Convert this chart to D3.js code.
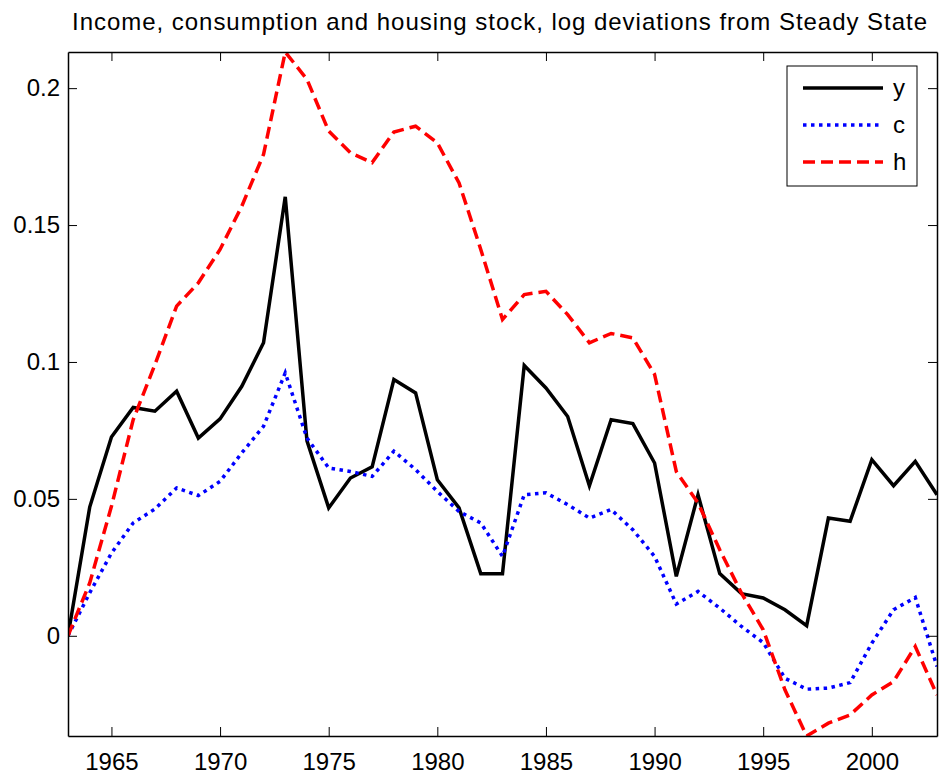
<!DOCTYPE html>
<html>
<head>
<meta charset="utf-8">
<script src="https://cdn.jsdelivr.net/npm/d3@7"></script>
<style>
  body { margin: 0; background: #fff; }
  svg { display: block; font-family: "Liberation Sans", Arial, Helvetica, sans-serif; }
</style>
</head>
<body>
<svg id="chart" width="939" height="777"></svg>
<script>
// log deviations from steady state, 1963-2003
const years = d3.range(1963, 2004);
const income = [0, 0.047, 0.0726, 0.0834, 0.082, 0.0893, 0.0722, 0.0792, 0.0911, 0.107,
  0.1603, 0.0712, 0.0467, 0.0576, 0.0617, 0.0936, 0.0887, 0.057, 0.0467, 0.0227,
  0.0227, 0.0987, 0.0905, 0.0801, 0.0548, 0.0789, 0.0775, 0.0631, 0.0217, 0.0515,
  0.0227, 0.0154, 0.0138, 0.0095, 0.0037, 0.043, 0.0418, 0.0643, 0.0548, 0.0637, 0.0515];
const consumption = [0, 0.0157, 0.0302, 0.0412, 0.0463, 0.054, 0.0512, 0.0564, 0.0668, 0.0765,
  0.096, 0.0722, 0.0613, 0.06, 0.0582, 0.0674, 0.0607, 0.0527, 0.0454, 0.0412,
  0.029, 0.0515, 0.0522, 0.0479, 0.043, 0.0461, 0.0387, 0.029, 0.0116, 0.0162,
  0.0101, 0.0034, -0.0025, -0.0155, -0.0195, -0.0191, -0.0171, -0.0027, 0.0095, 0.014, -0.0112];
const housing = [0, 0.0193, 0.0473, 0.0789, 0.099, 0.1204, 0.1289, 0.1411, 0.1569, 0.1758,
  0.2132, 0.2032, 0.1843, 0.1764, 0.1728, 0.184, 0.1861, 0.18, 0.1654, 0.1411,
  0.1155, 0.1246, 0.1258, 0.1173, 0.107, 0.1104, 0.1088, 0.0955, 0.06, 0.0485,
  0.0314, 0.0156, 0.0022, -0.0197, -0.0366, -0.0319, -0.0289, -0.0216, -0.0167, -0.0039, -0.0216];
const xTicks = [1965, 1970, 1975, 1980, 1985, 1990, 1995, 2000];
const yTicks = [0, 0.05, 0.1, 0.15, 0.2];

const series = [
  { name: "y", values: income, color: "#000", dash: null, width: 3.5 },
  { name: "c", values: consumption, color: "#0000ff", dash: "3.5,4.5", width: 3.5 },
  { name: "h", values: housing, color: "#ff0000", dash: "12,6", width: 3.5 }
];

const svg = d3.select("#chart");
const margin = { top: 52, right: 2, bottom: 41, left: 68 };
const width = +svg.attr("width");
const height = +svg.attr("height");

const x = d3.scaleLinear()
  .domain(d3.extent(years))
  .range([margin.left, width - margin.right]);

const allValues = income.concat(consumption, housing);
const y = d3.scaleLinear()
  .domain(d3.extent(allValues))
  .range([height - margin.bottom, margin.top]);

svg.append("text")
  .attr("x", 72)
  .attr("y", 30)
  .attr("textLength", 855)
  .attr("lengthAdjust", "spacing")
  .style("font-size", "24px")
  .text("Income, consumption and housing stock, log deviations from Steady State");

svg.append("clipPath").attr("id", "plot-clip")
  .append("rect")
  .attr("x", margin.left)
  .attr("y", margin.top)
  .attr("width", width - margin.left - margin.right)
  .attr("height", height - margin.top - margin.bottom);

const line = d3.line()
  .x((d, i) => x(years[i]))
  .y(d => y(d));

const plot = svg.append("g").attr("clip-path", "url(#plot-clip)");
series.forEach(s => {
  plot.append("path")
    .datum(s.values)
    .attr("d", line)
    .attr("fill", "none")
    .attr("stroke", s.color)
    .attr("stroke-width", s.width)
    .attr("stroke-linejoin", "miter")
    .attr("stroke-dasharray", s.dash);
});

// axes, matlab style: box with inward ticks on every side
const tickLen = 9;
const axisBottomG = svg.append("g")
  .attr("transform", `translate(0,${height - margin.bottom})`)
  .call(d3.axisBottom(x).tickValues(xTicks).tickFormat(d3.format("d")).tickSizeInner(-tickLen).tickSizeOuter(0).tickPadding(17));
const axisTopG = svg.append("g")
  .attr("transform", `translate(0,${margin.top})`)
  .call(d3.axisTop(x).tickValues(xTicks).tickFormat("").tickSizeInner(-tickLen).tickSizeOuter(0));
const axisLeftG = svg.append("g")
  .attr("transform", `translate(${margin.left},0)`)
  .call(d3.axisLeft(y).tickValues(yTicks).tickFormat(d => d === 0 ? "0" : String(d)).tickSizeInner(-tickLen).tickSizeOuter(0).tickPadding(8));
const axisRightG = svg.append("g")
  .attr("transform", `translate(${width - margin.right},0)`)
  .call(d3.axisRight(y).tickValues(yTicks).tickFormat("").tickSizeInner(-tickLen).tickSizeOuter(0));

[axisBottomG, axisTopG, axisLeftG, axisRightG].forEach(g => {
  g.selectAll(".domain").attr("stroke", "#000").attr("stroke-width", 1.5);
  g.selectAll(".tick line").attr("stroke", "#000").attr("stroke-width", 1);
  g.selectAll("text")
    .attr("fill", "#000")
    .style("font-size", "24px")
    .style("font-family", "'Liberation Sans', Arial, Helvetica, sans-serif");
});

// legend
const legend = svg.append("g").attr("transform", "translate(787,66)");
legend.append("rect")
  .attr("width", 130)
  .attr("height", 120)
  .attr("fill", "#fff")
  .attr("stroke", "#000")
  .attr("stroke-width", 1);
series.forEach((s, i) => {
  const ly = 22 + i * 37;
  legend.append("line")
    .attr("x1", 16).attr("x2", 96)
    .attr("y1", ly).attr("y2", ly)
    .attr("stroke", s.color)
    .attr("stroke-width", s.width)
    .attr("stroke-dasharray", s.dash);
  legend.append("text")
    .attr("x", 106)
    .attr("y", ly)
    .attr("dy", "0.35em")
    .style("font-size", "24px")
    .text(s.name);
});
</script>
</body>
</html>
